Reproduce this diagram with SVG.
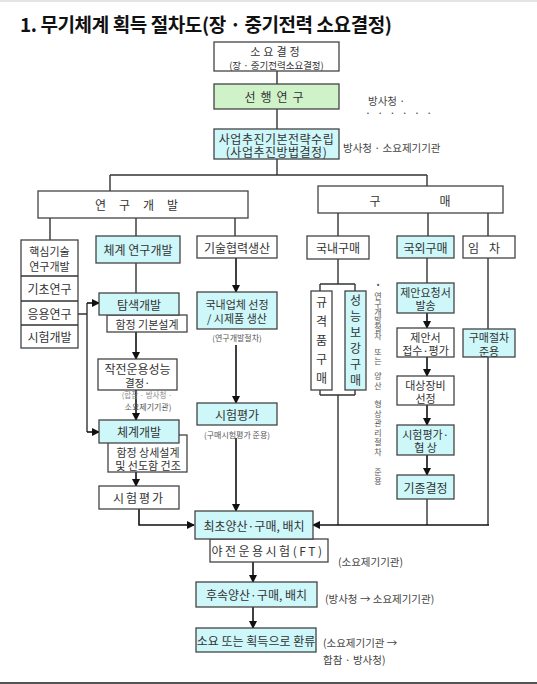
<svg xmlns="http://www.w3.org/2000/svg" width="537" height="684" viewBox="0 0 537 684">
<defs>
<style>
.bw{fill:#ffffff;stroke:#444;stroke-width:1.3}
.bc{fill:#cdf7f9;stroke:#444;stroke-width:1.3}
.bg{fill:#cff2c8;stroke:#444;stroke-width:1.3}
.t{font-family:"Noto Sans CJK KR","Noto Sans",sans-serif;font-size:12px;fill:#333;text-anchor:middle;dominant-baseline:central}
.t2{font-family:"Noto Sans CJK KR","Noto Sans",sans-serif;font-size:11px;fill:#333;text-anchor:middle;dominant-baseline:central}
.s{font-family:"Noto Sans CJK KR","Noto Sans",sans-serif;font-size:8px;fill:#555;text-anchor:middle;dominant-baseline:central}
.n{font-family:"Noto Sans CJK KR","Noto Sans",sans-serif;font-size:10.5px;fill:#444;dominant-baseline:central}
.ln{fill:none;stroke:#333;stroke-width:1.4}
.ar{fill:none;stroke:#111;stroke-width:1.6;marker-end:url(#ah)}
</style>
<marker id="ah" markerWidth="8" markerHeight="8" refX="7" refY="4" orient="auto" markerUnits="userSpaceOnUse">
<path d="M0,0 L8,4 L0,8 Z" fill="#111"/>
</marker>
</defs>
<rect x="0" y="0" width="537" height="684" fill="#ffffff"/>
<rect x="0" y="0" width="537" height="2" fill="#e4e4e4"/>
<rect x="0" y="682" width="537" height="2" fill="#555"/>
<text x="20" y="32" font-family="'Noto Sans CJK KR','Noto Sans',sans-serif" font-size="19" font-weight="bold" fill="#111" textLength="372">1. 무기체계 획득 절차도(장 · 중기전력 소요결정)</text>

<g id="connectors">
<path class="ln" d="M277,71 V84 M277,109 V129 M277,159 V175 M110,175 H427 M110,175 V191 M427,175 V186"/>
<path class="ln" d="M50,218 V240 M136,218 V236 M235,218 V236 M338,213 V236 M428,213 V236 M488,213 V236"/>
<path class="ln" d="M136,263 V293"/>
<path class="ar" d="M136,332 V359"/>
<path class="ar" d="M136,390 V420"/>
<path class="ar" d="M136,472 V486"/>
<path class="ar" d="M139,509 V525 H194"/>
<path class="ln" d="M78,314 H87 M87,303 V432"/>
<path class="ar" d="M87,303 H99"/>
<path class="ar" d="M87,432 H99"/>
<path class="ar" d="M236,258 V292"/>
<path class="ar" d="M236,345 V403"/>
<path class="ar" d="M236,438 V511"/>
<path class="ln" d="M338,259 V284 M320,284 H355 M320,284 V291 M355,284 V291 M320,390 V395 M355,390 V395 M320,395 H355 M338,395 V525"/>
<path class="ln" d="M427,258 V283"/>
<path class="ar" d="M427,313 V328"/>
<path class="ar" d="M427,357 V376"/>
<path class="ar" d="M427,405 V425"/>
<path class="ar" d="M427,455 V475"/>
<path class="ln" d="M427,499 V525 M488,258 V329 M488,357 V525"/>
<path class="ar" d="M489,525 H313"/>
<path class="ar" d="M253,562 V582"/>
<path class="ar" d="M253,607 V628"/>
</g>

<g id="n-soyo"><rect class="bw" x="214" y="42" width="125" height="29"/>
<text class="t2"><tspan x="276.5" y="51" letter-spacing="3">소요결정</tspan><tspan x="276.5" y="64.5" font-size="9.5">(장 · 중기전력소요결정)</tspan></text></g>

<g id="n-seonhaeng"><rect class="bg" x="214" y="84" width="125" height="25"/>
<text class="t" x="276.5" y="96.5" font-size="13" letter-spacing="5">선행연구</text></g>
<text class="n" font-size="8.5"><tspan x="368" y="100">방사청 ·</tspan><tspan x="365" y="112" letter-spacing="2">· · · · · ·</tspan></text>

<g id="n-strategy"><rect class="bc" x="214" y="129" width="125" height="30"/>
<text class="t" font-size="12"><tspan x="276.5" y="137.5" letter-spacing="0.5">사업추진기본전략수립</tspan><tspan x="276.5" y="151" letter-spacing="0.5">(사업추진방법결정)</tspan></text></g>
<text class="n" x="343" y="147" font-size="8.5">방사청 · 소요제기기관</text>

<g id="n-rnd"><rect class="bw" x="38" y="191" width="210" height="27"/>
<text class="t" x="143" y="204.5" letter-spacing="13">연구개발</text></g>

<g id="n-purchase"><rect class="bw" x="318" y="186" width="185" height="27"/>
<text class="t"><tspan x="375" y="199.5">구</tspan><tspan x="445" y="199.5">매</tspan></text></g>

<g id="n-stack"><rect class="bw" x="21" y="240" width="57" height="108"/>
<path class="ln" d="M21,276 H78 M21,301 H78 M21,325 H78"/>
<text class="t2"><tspan x="49.5" y="250.5">핵심기술</tspan><tspan x="49.5" y="265.5">연구개발</tspan></text>
<text class="t" x="49.5" y="288.5">기초연구</text>
<text class="t" x="49.5" y="313">응용연구</text>
<text class="t" x="49.5" y="336.5">시험개발</text></g>

<g id="n-sysrnd"><rect class="bc" x="96" y="236" width="84" height="27"/>
<text class="t" x="138" y="249.5">체계 연구개발</text></g>

<g id="n-explore"><rect class="bw" x="107" y="315" width="80" height="17"/>
<text class="t2" x="147" y="323.5">함정 기본설계</text>
<rect class="bc" x="99" y="293" width="80" height="22"/>
<text class="t" x="139" y="304">탐색개발</text></g>

<g id="n-rop"><rect class="bw" x="98" y="359" width="79" height="31"/>
<text class="t" font-size="10"><tspan x="137.5" y="367.5">작전운용성능</tspan><tspan x="137.5" y="382" font-size="10.5">결정·</tspan><tspan x="147" y="394" font-size="7.5" fill="#888">(합참 · 방사청 ·</tspan><tspan x="148" y="406" font-size="8" fill="#555">소요제기기관)</tspan></text></g>

<g id="n-sysdev"><rect class="bw" x="108" y="435" width="79" height="37"/>
<text class="t2"><tspan x="148" y="451.5">함정 상세설계</tspan><tspan x="148" y="465">및 선도함 건조</tspan></text>
<rect class="bc" x="99" y="420" width="80" height="23"/>
<text class="t" x="139" y="431.5">체계개발</text></g>

<g id="n-test1"><rect class="bw" x="99" y="486" width="80" height="23"/>
<text class="t" x="139" y="497.5" letter-spacing="2">시험평가</text></g>

<g id="n-techcoop"><rect class="bw" x="197" y="236" width="80" height="22"/>
<text class="t" x="237" y="247">기술협력생산</text></g>

<g id="n-domfirm"><rect class="bc" x="197" y="292" width="80" height="37"/>
<text class="t2"><tspan x="237" y="303.5">국내업체 선정</tspan><tspan x="237" y="318">/ 시제품 생산</tspan></text>
<text class="s" x="237" y="337">(연구개발절차)</text></g>

<g id="n-test2"><rect class="bc" x="197" y="403" width="80" height="22"/>
<text class="t" x="237" y="414">시험평가</text>
<text class="s" x="237" y="434">(구매시험평가 준용)</text></g>

<g id="n-dompur"><rect class="bw" x="307" y="236" width="62" height="23"/>
<text class="t" x="338" y="247.5">국내구매</text></g>

<g id="n-spec"><rect class="bw" x="311" y="291" width="21" height="99"/>
<text class="t"><tspan x="321.5 321.5 321.5 321.5 321.5" y="301 320 339 358 377">규격품구매</tspan></text></g>

<g id="n-perf"><rect class="bc" x="345" y="291" width="21" height="99"/>
<text class="t" font-size="12.5"><tspan x="355.5 355.5 355.5 355.5 355.5 355.5" y="299 315 331 347 363 379">성능보강구매</tspan></text></g>

<text class="s" fill="#666"><tspan x="378" y="283">•</tspan><tspan x="378 378 378 378 378 378" y="295 303 311 319 327 335">연구개발절차</tspan><tspan x="378 378" y="351 360">또는</tspan><tspan x="378 378" y="375 385">양산</tspan><tspan x="378 378 378 378 378 378" y="403 412.5 422 431.5 441 450.5">형상관리절차</tspan><tspan x="378 378" y="471 480">준용</tspan></text>

<g id="n-forpur"><rect class="bc" x="397" y="236" width="57" height="22"/>
<text class="t" x="425.5" y="247">국외구매</text></g>

<g id="n-rfp"><rect class="bc" x="397" y="283" width="57" height="30"/>
<text class="t2"><tspan x="425.5" y="291.5">제안요청서</tspan><tspan x="425.5" y="305">발송</tspan></text></g>

<g id="n-proposal"><rect class="bw" x="397" y="328" width="57" height="29"/>
<text class="t2"><tspan x="425.5" y="336.5">제안서</tspan><tspan x="425.5" y="350">접수·평가</tspan></text></g>

<g id="n-select"><rect class="bw" x="397" y="376" width="57" height="29"/>
<text class="t2"><tspan x="425.5" y="384.5">대상장비</tspan><tspan x="425.5" y="398">선정</tspan></text></g>

<g id="n-nego"><rect class="bc" x="397" y="425" width="57" height="30"/>
<text class="t2"><tspan x="425.5" y="433.5">시험평가·</tspan><tspan x="425.5" y="447">협 상</tspan></text></g>

<g id="n-model"><rect class="bc" x="397" y="475" width="57" height="24"/>
<text class="t" x="425.5" y="487">기종결정</text></g>

<g id="n-lease"><rect class="bw" x="463" y="236" width="52" height="22"/>
<text class="t" x="489" y="247" letter-spacing="10">임차</text></g>

<g id="n-leaseproc"><rect class="bc" x="463" y="329" width="52" height="28"/>
<text class="t2"><tspan x="489" y="337">구매절차</tspan><tspan x="489" y="350.5">준용</tspan></text></g>

<g id="n-ft"><rect class="bw" x="210" y="539" width="118" height="23"/>
<text class="t" x="268" y="550.5" font-size="11" letter-spacing="2.5">야전운용시험(FT)</text></g>

<g id="n-initial"><rect class="bc" x="195" y="511" width="118" height="28"/>
<text class="t" x="254" y="525">최초양산·구매, 배치</text></g>
<text class="n" x="338" y="561">(소요제기기관)</text>

<g id="n-follow"><rect class="bc" x="196" y="582" width="121" height="25"/>
<text class="t" x="256.5" y="594.5">후속양산·구매, 배치</text></g>
<text class="n" x="325" y="598">(방사청 → 소요제기기관)</text>

<g id="n-feedback"><rect class="bc" x="196" y="628" width="120" height="24"/>
<text class="t" x="256" y="640">소요 또는 획득으로 환류</text></g>
<text class="n"><tspan x="323" y="642">(소요제기기관 →</tspan><tspan x="323" y="659">합참 · 방사청)</tspan></text>
</svg>
